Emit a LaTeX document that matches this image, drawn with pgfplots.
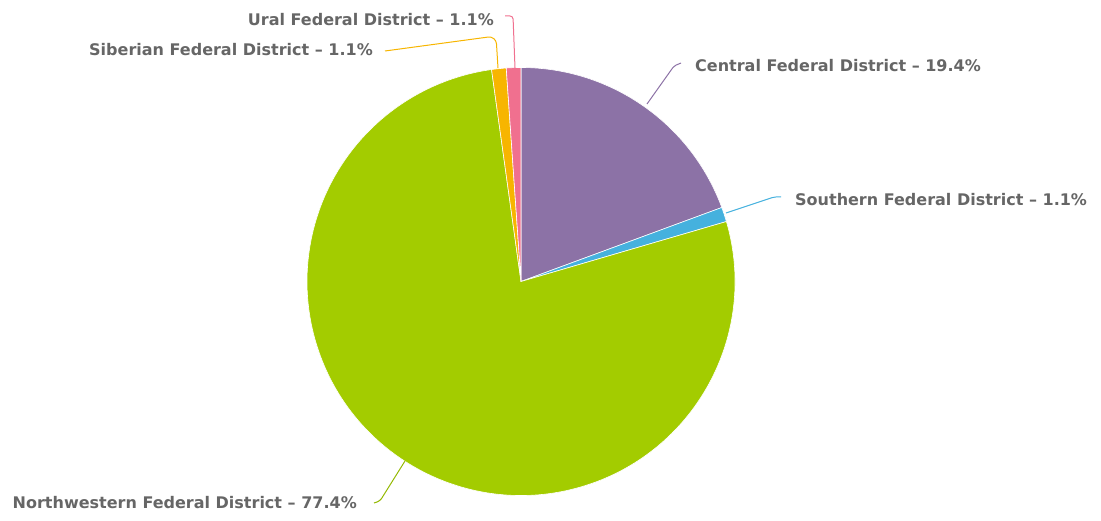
\documentclass[border=0pt]{standalone}
\usepackage{fontspec}
\setmainfont{DejaVu Sans}
\usepackage{pgfplots}
\usepackage{pgfplotstable}
\pgfplotsset{compat=1.18}

\definecolor{cpurple}{HTML}{8C72A6}
\definecolor{cblue}{HTML}{45B1DE}
\definecolor{cgreen}{HTML}{A3CC00}
\definecolor{corange}{HTML}{F7B500}
\definecolor{cpink}{HTML}{F0708F}
\definecolor{labelgray}{HTML}{666666}

% shares in percent, clockwise from 12 o'clock
\pgfplotstableread{
name         value colour
Central      19.4  cpurple
Southern     1.1   cblue
Northwestern 77.4  cgreen
Siberian     1.1   corange
Ural         1.1   cpink
}\piedata

% start and end angles of each slice (shares sum to 100.1)
\xdef\cum{90}%
\foreach \i in {0,...,4}{%
  \pgfplotstablegetelem{\i}{value}\of\piedata
  \pgfmathsetmacro\e{\cum-3.6*\pgfplotsretval/1.001}%
  \expandafter\xdef\csname s\i\endcsname{\cum}%
  \expandafter\xdef\csname e\i\endcsname{\e}%
  \pgfplotstablegetelem{\i}{colour}\of\piedata
  \expandafter\xdef\csname c\i\endcsname{\pgfplotsretval}%
  \xdef\cum{\e}%
}

\begin{document}
\begin{tikzpicture}
\begin{axis}[
    hide axis, scale only axis,
    width=1101pt, height=521pt,
    xmin=0, xmax=1101, ymin=-521, ymax=0,
    clip=false,
  ]
  \pgfplotsinvokeforeach{0,...,4}{
    \fill[fill=\csname c#1\endcsname, draw=white, line width=0.6pt]
      (axis cs:521,-281.5) -- ++(\csname s#1\endcsname:214pt)
      arc[start angle=\csname s#1\endcsname, end angle=\csname e#1\endcsname, radius=214pt] -- cycle;
  }
  % connectors
  \draw[cpink, line width=1pt, rounded corners=3pt]
    (axis cs:505,-16) -- (axis cs:513,-16) -- (axis cs:515,-68);
  \draw[corange, line width=1pt, rounded corners=8pt]
    (axis cs:385,-51) -- (axis cs:496,-36) -- (axis cs:498,-68);
  \draw[cpurple, line width=1pt, rounded corners=2pt]
    (axis cs:681,-63) -- (axis cs:674,-66) -- (axis cs:647,-104);
  \draw[cblue, line width=1pt, rounded corners=2pt]
    (axis cs:781,-197) -- (axis cs:774,-197) -- (axis cs:726,-213);
  \draw[cgreen!90!black, line width=1pt, rounded corners=3pt]
    (axis cs:374,-503) -- (axis cs:380,-501) -- (axis cs:405,-461);
  % labels
  \begin{scope}[every node/.style={font=\fontsize{16}{18}\selectfont\bfseries, text=labelgray, inner sep=0pt}]
    \node[anchor=base east] at (axis cs:494,-26) {Ural Federal District -- 1.1\%};
    \node[anchor=base east] at (axis cs:373,-56) {Siberian Federal District -- 1.1\%};
    \node[anchor=base west] at (axis cs:695,-72) {Central Federal District -- 19.4\%};
    \node[anchor=base west] at (axis cs:795,-206) {Southern Federal District -- 1.1\%};
    \node[anchor=base east] at (axis cs:357,-509) {Northwestern Federal District -- 77.4\%};
  \end{scope}
\end{axis}
\pgfresetboundingbox
\useasboundingbox (current axis.south west) rectangle (current axis.north east);
\end{tikzpicture}
\end{document}
